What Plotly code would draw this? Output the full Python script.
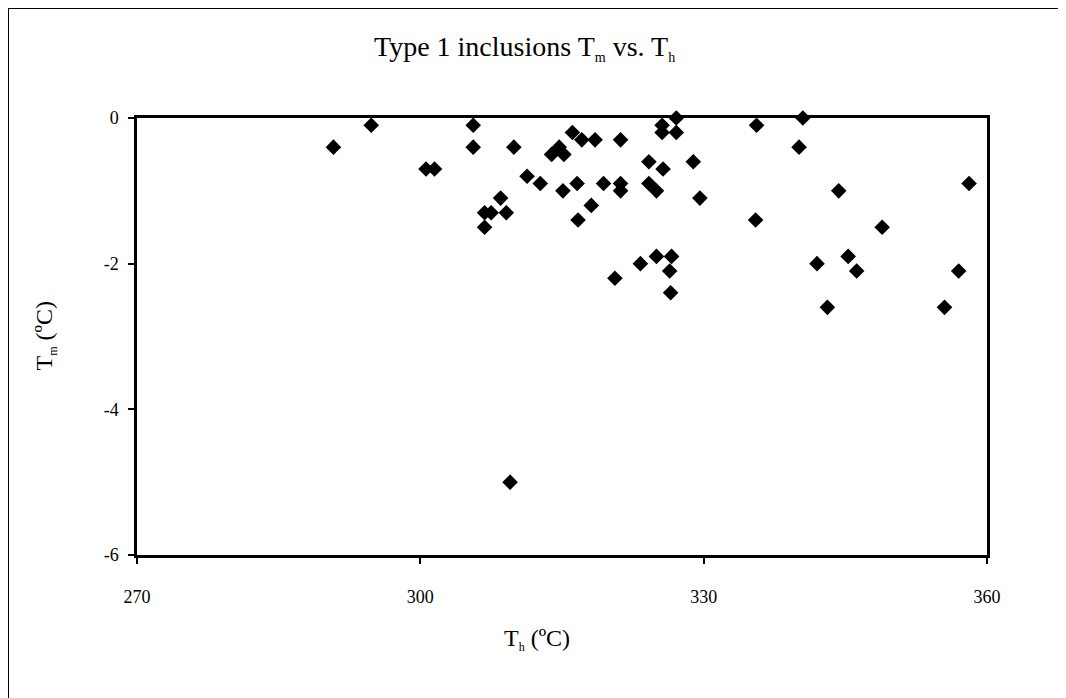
import plotly.graph_objects as go

# Homogenization temperature Th (ºC)
th_values = [290.8, 294.8, 300.6, 301.5, 305.6, 305.6, 306.8, 307.5, 306.8, 308.5,
             309.1, 309.9, 309.5, 311.3, 312.7, 313.9, 314.7, 315.2, 315.1, 316.1,
             317.1, 316.6, 316.7, 318.1, 318.5, 319.4, 320.6, 321.2, 321.2, 321.2,
             323.3, 324.2, 324.2, 325.0, 325.0, 325.6, 325.6, 325.7, 326.4, 326.6,
             326.5, 327.1, 327.1, 328.9, 329.6, 335.6, 335.5, 340.5, 340.1, 342.0,
             343.1, 344.3, 345.3, 346.2, 348.9, 355.5, 357.0, 358.1]
# Ice melting temperature Tm (ºC)
tm_values = [-0.4, -0.1, -0.7, -0.7, -0.1, -0.4, -1.3, -1.3, -1.5, -1.1,
             -1.3, -0.4, -5.0, -0.8, -0.9, -0.5, -0.4, -0.5, -1.0, -0.2,
             -0.3, -0.9, -1.4, -1.2, -0.3, -0.9, -2.2, -0.3, -0.9, -1.0,
             -2.0, -0.6, -0.9, -1.0, -1.9, -0.1, -0.2, -0.7, -2.1, -1.9,
             -2.4, 0.0, -0.2, -0.6, -1.1, -0.1, -1.4, 0.0, -0.4, -2.0,
             -2.6, -1.0, -1.9, -2.1, -1.5, -2.6, -2.1, -0.9]

x_ticks = [270, 300, 330, 360]
y_ticks = [0, -2, -4, -6]


def sub(s, size):
    return '<sub><span style="font-size:%dpx">%s</span></sub>' % (size, s)


chart_title = "Type 1 inclusions T" + sub("m", 14) + " vs. T" + sub("h", 14)
x_title = "T" + sub("h", 12) + " (ºC)"
y_title = "T" + sub("m", 12) + " (ºC)"

serif = "Liberation Serif, Times New Roman, serif"

fig = go.Figure()
fig.add_trace(go.Scatter(
    x=th_values, y=tm_values, mode="markers",
    marker=dict(symbol="diamond", size=12, color="black", line=dict(width=0)),
    cliponaxis=False, showlegend=False,
))

L, R, T, B = 129, 87, 110, 151
PW, PH = 1066 - L - R, 698 - T - B

fig.update_layout(
    width=1066, height=698,
    margin=dict(l=L, r=R, t=T, b=B),
    paper_bgcolor="white", plot_bgcolor="white",
    font=dict(family=serif, color="black"),
    shapes=[dict(type="rect", xref="paper", yref="paper",
                 x0=-L / PW, x1=1 + R / PW, y0=-B / PH, y1=1 + T / PH,
                 line=dict(color="black", width=2), layer="below")],
    annotations=[
        dict(text=chart_title, xref="paper", yref="paper",
             x=(516 - L) / PW, y=1 + (T - 40) / PH, xanchor="center", yanchor="middle",
             showarrow=False, font=dict(size=28, family=serif, color="black")),
        dict(text=x_title, xref="paper", yref="paper",
             x=(529 - L) / PW, y=-(631 - (698 - B)) / PH, xanchor="center", yanchor="middle",
             showarrow=False, font=dict(size=24, family=serif, color="black")),
        dict(text=y_title, xref="paper", yref="paper", textangle=-90,
             x=-(L - 37) / PW, y=0.5, xanchor="center", yanchor="middle",
             showarrow=False, font=dict(size=24, family=serif, color="black")),
    ],
)

fig.update_xaxes(
    range=[270, 360], tickvals=x_ticks, ticktext=[str(v) for v in x_ticks],
    showgrid=False, zeroline=False,
    showline=True, linecolor="black", linewidth=2.5, mirror=True,
    ticks="outside", ticklen=6, tickwidth=2, tickcolor="black",
    tickfont=dict(size=18, family=serif, color="black"),
    ticklabelstandoff=18,
)
fig.update_yaxes(
    range=[-6, 0], tickvals=y_ticks, ticktext=[str(v) for v in y_ticks],
    showgrid=False, zeroline=False,
    showline=True, linecolor="black", linewidth=2.5, mirror=True,
    ticks="outside", ticklen=6, tickwidth=2, tickcolor="black",
    tickfont=dict(size=18, family=serif, color="black"),
    ticklabelstandoff=6,
)

fig.write_html("out.html")
